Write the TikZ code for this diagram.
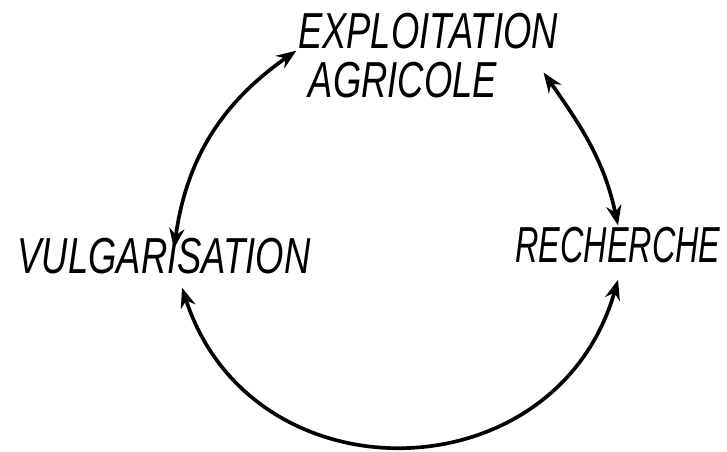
\documentclass[tikz,border=0pt]{standalone}
\usepackage{fontspec}
\setmainfont{Liberation Sans}
\usetikzlibrary{positioning,arrows.meta}

\newcommand{\squeeze}[2][0.72]{\scalebox{#1}[1]{#2}}

\begin{document}
\begin{tikzpicture}[
  lbl/.style={font=\fontsize{36}{40}\selectfont\itshape, inner sep=1pt},
  dbl/.style={{Stealth[length=5mm,width=3.8mm]}-{Stealth[length=5mm,width=3.8mm]}, line width=2.6pt}
]
  \useasboundingbox (0,0) rectangle (18.175,11.275);

  \node[lbl] (expl) at (10.7,10.5) {\squeeze{EXPLOITATION}};
  \node[lbl] (agri) at (10.075,9.275) {\squeeze{AGRICOLE}};
  \node[lbl] (vulg) at (4.1,4.875) {\squeeze{VULGARISATION}};
  \node[lbl] (rech) at (15.45,5.15) {\squeeze[0.64]{RECHERCHE}};

  \draw[dbl] ([xshift=0.25cm,yshift=-0.3cm]vulg.north) to[out=82,in=215] (expl.south west);
  \draw[dbl] ([xshift=-0.4cm,yshift=-0.55cm]expl.south east) to[out=-55,in=102] (rech.north);
  \draw[dbl] ([xshift=0.45cm,yshift=-0.3cm]vulg.south) to[out=-72,in=-106,looseness=1.32] ([yshift=-0.38cm]rech.south);
\end{tikzpicture}
\end{document}
